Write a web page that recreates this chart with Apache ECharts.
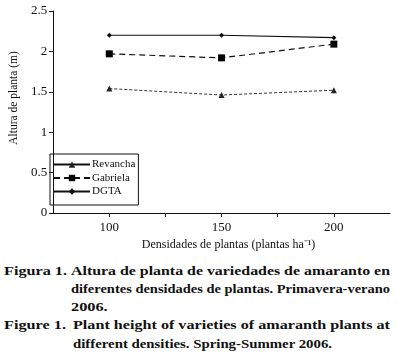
<!DOCTYPE html>
<html>
<head>
<meta charset="utf-8">
<script src="https://cdn.jsdelivr.net/npm/echarts@6/dist/echarts.min.js"></script>
<style>
  html, body { margin: 0; padding: 0; background: #fff; }
  #chart { position: absolute; left: 0; top: 0; width: 397px; height: 256px; }
  .ln {
    position: absolute; white-space: nowrap; line-height: 1;
    font-family: "Liberation Serif", serif;
    font-weight: bold; font-size: 12.5px; color: #111;
    transform-origin: 0 0;
  }
</style>
</head>
<body>
<div id="chart"></div>
<span class="ln" data-x="4" data-w="63" data-base="275">Figura 1.</span>
<span class="ln" data-x="71" data-w="319" data-base="275">Altura de planta de variedades de amaranto en</span>
<span class="ln" data-x="71" data-w="319" data-base="293">diferentes densidades de plantas. Primavera-verano</span>
<span class="ln" data-x="71" data-base="311">2006.</span>
<span class="ln" data-x="4" data-w="62" data-base="329">Figure 1.</span>
<span class="ln" data-x="73" data-w="317" data-base="329">Plant height of varieties of amaranth plants at</span>
<span class="ln" data-x="73" data-w="259" data-base="348">different densities. Spring-Summer 2006.</span>
<script>
// densidades de plantas (x)
var densidades = [100, 150, 200];
var revancha = [1.54, 1.46, 1.52];
var gabriela = [1.97, 1.92, 2.09];
var dgta = [2.20, 2.20, 2.17];
var xLabels = [100, 150, 200];

function pts(vals) {
  return densidades.map(function (d, i) { return [d, vals[i]]; });
}

// caption lines: stretched bold serif, fitted to the printed widths
var SCALE = 1.3;
document.querySelectorAll('.ln').forEach(function (el) {
  var x = +el.dataset.x, base = +el.dataset.base;
  el.style.left = x + 'px';
  el.style.top = (base - 10.5) + 'px';
  var natural = el.getBoundingClientRect().width;
  var s = SCALE;
  if (el.dataset.w) {
    var w = +el.dataset.w;
    var spaces = (el.textContent.match(/ /g) || []).length;
    if (natural * SCALE > w) {
      s = w / natural;
    } else if (spaces > 0) {
      el.style.wordSpacing = ((w / SCALE - natural) / spaces) + 'px';
    }
  }
  el.style.transform = 'scaleX(' + s + ')';
});

var chartDom = document.getElementById('chart');
var myChart = echarts.init(chartDom);
var serif = 'Liberation Serif';

var option = {
  animation: false,
  backgroundColor: '#fff',
  textStyle: { fontFamily: serif, color: '#111' },
  grid: { left: 39, right: 7, top: 11, bottom: 43 },
  legend: {
    orient: 'vertical',
    left: 50,
    top: 154,
    padding: [5, 3, 8, 3],
    itemWidth: 36,
    itemHeight: 8,
    itemGap: 2.5,
    borderColor: '#111',
    borderWidth: 1,
    textStyle: { fontFamily: serif, fontSize: 11, color: '#111', padding: [0, 0, 0, -3] },
    data: [
      { name: 'Revancha', lineStyle: { type: 'solid', color: '#111' } },
      { name: 'Gabriela' },
      { name: 'DGTA' }
    ]
  },
  xAxis: {
    type: 'value',
    min: 75,
    max: 225,
    interval: 25,
    name: 'Densidades de plantas (plantas ha⁻¹)',
    nameLocation: 'middle',
    nameGap: 25,
    nameTextStyle: { fontFamily: serif, fontSize: 12, color: '#111', padding: [0, 0, 0, 14] },
    splitLine: { show: false },
    axisLine: { lineStyle: { color: '#111', width: 1 } },
    axisTick: { length: 4, lineStyle: { color: '#111' } },
    axisLabel: {
      fontFamily: serif, fontSize: 13, color: '#111', margin: 8,
      showMinLabel: false, showMaxLabel: false,
      formatter: function (v) { return xLabels.indexOf(v) >= 0 ? String(v) : ''; }
    }
  },
  yAxis: {
    type: 'value',
    min: 0,
    max: 2.5,
    interval: 0.5,
    name: 'Altura de planta (m)',
    nameLocation: 'middle',
    nameGap: 28,
    nameTextStyle: { fontFamily: serif, fontSize: 11.5, color: '#111', padding: [0, 0, 0, 28] },
    splitLine: { show: false },
    axisLine: { show: true, lineStyle: { color: '#111', width: 1 } },
    axisTick: { show: true, length: 4, lineStyle: { color: '#111' } },
    axisLabel: { fontFamily: serif, fontSize: 13, color: '#111', margin: 6 }
  },
  series: [
    {
      name: 'Revancha',
      type: 'line',
      data: pts(revancha),
      symbol: 'triangle',
      symbolSize: 6,
      itemStyle: { color: '#222' },
      lineStyle: { color: '#333', width: 1, type: [3, 2] }
    },
    {
      name: 'Gabriela',
      type: 'line',
      data: pts(gabriela),
      symbol: 'rect',
      symbolSize: 7,
      itemStyle: { color: '#000' },
      lineStyle: { color: '#111', width: 1.2, type: [6, 4] }
    },
    {
      name: 'DGTA',
      type: 'line',
      data: pts(dgta),
      symbol: 'diamond',
      symbolSize: 5,
      itemStyle: { color: '#111' },
      lineStyle: { color: '#111', width: 1.2, type: 'solid' }
    }
  ]
};

option && myChart.setOption(option);
</script>
</body>
</html>
